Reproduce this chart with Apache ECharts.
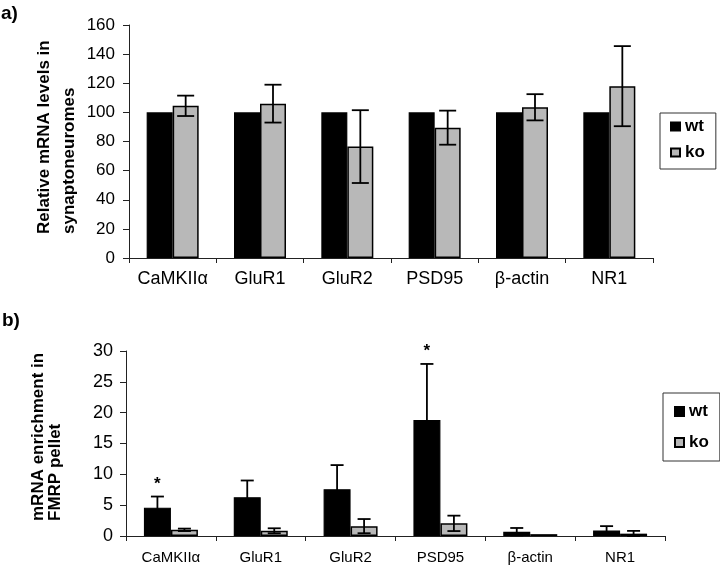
<!DOCTYPE html>
<html>
<head>
<meta charset="utf-8">
<script src="https://cdn.jsdelivr.net/npm/echarts@6/dist/echarts.min.js"></script>
<style>html,body{margin:0;padding:0;background:#fff}#c{width:720px;height:565px}</style>
</head>
<body>
<div id="c"></div>
<script>
const categories = ['CaMKIIα', 'GluR1', 'GluR2', 'PSD95', 'β-actin', 'NR1'];
const seriesNames = ['wt', 'ko'];
// panel a: relative mRNA levels in synaptoneuromes
const aWt = [100, 100, 100, 100, 100, 100];
const aKo = [104.5, 106, 76.5, 89.5, 103.5, 118];
const aKoErr = [7, 13, 25, 11.7, 9, 27.5];
const aTicks = [0, 20, 40, 60, 80, 100, 120, 140, 160];
// panel b: mRNA enrichment in FMRP pellet
const bWt = [4.6, 6.3, 7.6, 18.8, 0.7, 0.9];
const bWtErr = [1.8, 2.7, 3.9, 9.1, 0.6, 0.7];
const bKo = [1.0, 0.85, 1.6, 2.05, 0.3, 0.38];
const bKoErr = [0.2, 0.4, 1.15, 1.25, 0, 0.45];
const bSig = ['*', '', '', '*', '', ''];
const bTicks = [0, 5, 10, 15, 20, 25, 30];

const FONT = '"Liberation Sans", Arial, sans-serif';
const GRAY = '#b8b8b8';

function errRenderer(offset, capW, sigs) {
  return function (params, api) {
    const i = api.value(0), v = api.value(1), e = api.value(2);
    const top = api.coord([i, v + e]);
    const bot = api.coord([i, Math.max(v - e, 0)]);
    const x = top[0] + offset;
    const st = { stroke: '#000', lineWidth: 1.8 };
    const children = [];
    if (e > 0) {
      children.push({ type: 'line', shape: { x1: x, y1: top[1], x2: x, y2: bot[1] }, style: st });
      children.push({ type: 'line', shape: { x1: x - capW / 2, y1: top[1], x2: x + capW / 2, y2: top[1] }, style: st });
      children.push({ type: 'line', shape: { x1: x - capW / 2, y1: bot[1], x2: x + capW / 2, y2: bot[1] }, style: st });
    }
    if (sigs && sigs[params.dataIndex]) {
      children.push({ type: 'text', style: { x: x, y: top[1] - 4, text: sigs[params.dataIndex], textAlign: 'center', textVerticalAlign: 'bottom', font: 'bold 17px ' + FONT, fill: '#000' } });
    }
    return { type: 'group', children: children };
  };
}

const axisLineStyle = { lineStyle: { color: '#222', width: 1 } };

const option = {
  animation: false,
  backgroundColor: '#fff',
  textStyle: { fontFamily: FONT },
  grid: [
    { left: 129, top: 25, width: 524, height: 233 },
    { left: 126, top: 351, width: 539, height: 185 }
  ],
  xAxis: [
    { type: 'category', gridIndex: 0, data: categories, axisLine: axisLineStyle,
      axisTick: { show: true, length: 5, lineStyle: { color: '#222' } },
      axisLabel: { color: '#000', fontSize: 18, fontFamily: FONT, margin: 12, interval: 0 } },
    { type: 'category', gridIndex: 1, data: categories, axisLine: axisLineStyle,
      axisTick: { show: true, length: 5, lineStyle: { color: '#222' } },
      axisLabel: { color: '#000', fontSize: 15, fontFamily: FONT, margin: 14, interval: 0 } }
  ],
  yAxis: [
    { type: 'value', gridIndex: 0, min: aTicks[0], max: aTicks[aTicks.length - 1], interval: aTicks[1] - aTicks[0],
      axisLine: { show: true, lineStyle: { color: '#222', width: 1 } },
      axisTick: { show: true, length: 6, lineStyle: { color: '#222' } },
      splitLine: { show: false },
      axisLabel: { color: '#000', fontSize: 17, fontFamily: FONT, margin: 14 } },
    { type: 'value', gridIndex: 1, min: bTicks[0], max: bTicks[bTicks.length - 1], interval: bTicks[1] - bTicks[0],
      axisLine: { show: true, lineStyle: { color: '#222', width: 1 } },
      axisTick: { show: true, length: 6, lineStyle: { color: '#222' } },
      splitLine: { show: false },
      axisLabel: { color: '#000', fontSize: 18, fontFamily: FONT, margin: 13 } }
  ],
  legend: [
    { data: seriesNames, orient: 'vertical', left: 660, top: 113,
      padding: [5, 11, 8, 10], itemGap: 9, itemWidth: 9, itemHeight: 8,
      borderColor: '#333', borderWidth: 1, icon: 'rect',
      textStyle: { fontSize: 17, fontWeight: 'bold', color: '#000', fontFamily: FONT } },
    { data: seriesNames, orient: 'vertical', left: 663, top: 393,
      padding: [10, 11, 10, 11], itemGap: 14, itemWidth: 9, itemHeight: 9,
      borderColor: '#333', borderWidth: 1, icon: 'rect',
      textStyle: { fontSize: 17, fontWeight: 'bold', color: '#000', fontFamily: FONT } }
  ],
  graphic: [
    { type: 'text', left: 1, top: 4, style: { text: 'a)', font: 'bold 19px ' + FONT, fill: '#000' } },
    { type: 'text', left: 2, top: 311, style: { text: 'b)', font: 'bold 19px ' + FONT, fill: '#000' } },
    { type: 'text', x: 32, y: 234, rotation: Math.PI / 2,
      style: { text: 'Relative mRNA levels in\nsynaptoneuromes', font: 'bold 17px ' + FONT, lineHeight: 25, fill: '#000', textAlign: 'left', textVerticalAlign: 'top' } },
    { type: 'text', x: 30, y: 521, rotation: Math.PI / 2,
      style: { text: 'mRNA enrichment in\nFMRP pellet', font: 'bold 17px ' + FONT, lineHeight: 17, fill: '#000', textAlign: 'left', textVerticalAlign: 'top' } }
  ],
  series: [
    { name: 'wt', type: 'bar', xAxisIndex: 0, yAxisIndex: 0, data: aWt, barWidth: 26, barGap: '0%',
      itemStyle: { color: '#000', borderColor: '#000', borderWidth: 1.2 } },
    { name: 'ko', type: 'bar', xAxisIndex: 0, yAxisIndex: 0, data: aKo, barWidth: 26, barGap: '0%',
      itemStyle: { color: GRAY, borderColor: '#000', borderWidth: 1.5 } },
    { name: 'a-ko-err', type: 'custom', xAxisIndex: 0, yAxisIndex: 0, z: 5,
      data: aKo.map((v, i) => [i, v, aKoErr[i]]), renderItem: errRenderer(13, 17, null) },
    { name: 'wt', type: 'bar', xAxisIndex: 1, yAxisIndex: 1, data: bWt, barWidth: 27, barGap: '0%',
      itemStyle: { color: '#000', borderColor: '#000', borderWidth: 1.2 } },
    { name: 'ko', type: 'bar', xAxisIndex: 1, yAxisIndex: 1, data: bKo, barWidth: 27, barGap: '0%',
      itemStyle: { color: GRAY, borderColor: '#000', borderWidth: 1.5 } },
    { name: 'b-wt-err', type: 'custom', xAxisIndex: 1, yAxisIndex: 1, z: 5,
      data: bWt.map((v, i) => [i, v, bWtErr[i]]), renderItem: errRenderer(-13.5, 13, bSig) },
    { name: 'b-ko-err', type: 'custom', xAxisIndex: 1, yAxisIndex: 1, z: 5,
      data: bKo.map((v, i) => [i, v, bKoErr[i]]), renderItem: errRenderer(13.5, 13, null) }
  ]
};
const chart = echarts.init(document.getElementById('c'), null, { renderer: 'canvas' });
chart.setOption(option);
</script>
</body>
</html>
